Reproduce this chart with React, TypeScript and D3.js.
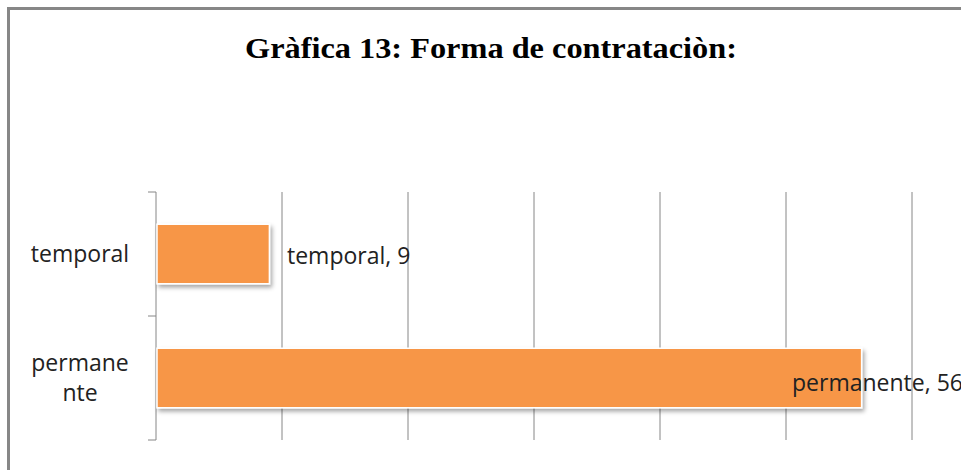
import React from "react";
import * as d3 from "d3";

const categories = ["temporal", "permanente"];
const values = [9, 56];
const categoryLines = [["temporal"], ["permane", "nte"]];
const ticks = [0, 10, 20, 30, 40, 50, 60];
const title = "Gràfica 13: Forma de contrataciòn:";

export default function App() {
  const W = 961, H = 470;
  const x = d3.scaleLinear().domain([0, 60]).range([156, 912]);
  const y = d3.scaleBand().domain(categories).range([192, 440]).paddingInner(0.52).paddingOuter(0.26);
  const bands = d3.scaleBand().domain(categories).range([192, 440]);
  const font = "'Open Sans', 'Liberation Sans', sans-serif";
  return (
    <svg width={W} height={H} style={{ position: "absolute", left: 0, top: 0 }}>
      <defs>
        <filter id="sh" x="-10%" y="-20%" width="130%" height="160%">
          <feDropShadow dx="2" dy="3" stdDeviation="2" floodColor="#000" floodOpacity="0.35" />
        </filter>
      </defs>
      <rect x={0} y={0} width={W} height={H} fill="#fff" />
      <path d={`M8.5,${H} V8.5 H${W}`} fill="none" stroke="#878787" strokeWidth={3} />
      <text x={491} y={58} textAnchor="middle" fontFamily="'Liberation Serif', 'DejaVu Serif', serif" fontWeight="bold" fontSize={29} textLength={492} lengthAdjust="spacingAndGlyphs" fill="#000">{title}</text>
      {ticks.map((t) => (
        <line key={t} x1={x(t)} x2={x(t)} y1={192} y2={440} stroke="#868686" strokeWidth={1} />
      ))}
      {[192, ...categories.map((c) => (bands(c) as number) + bands.bandwidth())].map((v, i) => (
        <line key={i} x1={148} x2={156} y1={v} y2={v} stroke="#868686" strokeWidth={1} />
      ))}
      {categories.map((c, i) => (
        <rect key={c} x={x(0) + 1} y={y(c)} width={x(values[i]) - x(0) - 1} height={y.bandwidth()} fill="#F79646" stroke="#fff" strokeWidth={1.5} filter="url(#sh)" />
      ))}
      {categories.map((c, i) => {
        const cy = (bands(c) as number) + bands.bandwidth() / 2;
        const lines = categoryLines[i];
        return (
          <text key={c} textAnchor="middle" fontFamily={font} fontSize={23} fill="#222">
            {lines.map((l, j) => (
              <tspan key={j} x={80} y={cy + 8 + (j - (lines.length - 1) / 2) * 30}>{l}</tspan>
            ))}
          </text>
        );
      })}
      <text x={287} y={264} fontFamily={font} fontSize={23} fill="#222">{`${categories[0]}, ${values[0]}`}</text>
      <text x={792} y={391} fontFamily={font} fontSize={23} fill="#222">{`${categories[1]}, ${values[1]}`}</text>
    </svg>
  );
}
